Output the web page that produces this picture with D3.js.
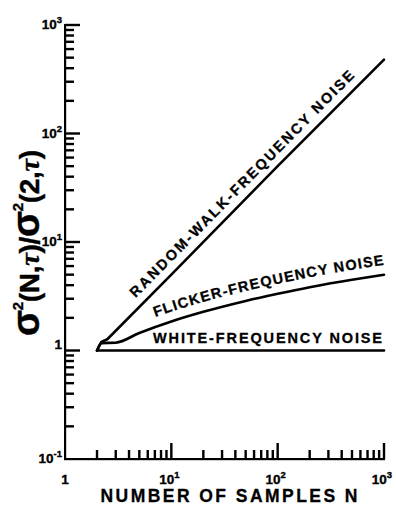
<!DOCTYPE html>
<html><head><meta charset="utf-8">
<script src="https://cdn.jsdelivr.net/npm/d3@7"></script>
<style>body{margin:0;background:#fff}svg{display:block}</style>
</head><body><svg id="c" width="396" height="508"></svg>
<script>
// ---- data ----
const flickerN = [2, 2.2, 3, 5, 10, 20, 50, 100, 200, 500, 1000];
const flickerRatio = [1, 1.17, 1.18, 1.45, 1.85, 2.27, 2.86, 3.33, 3.83, 4.49, 4.99];
const randomWalkN = [2, 2.2, 2.5, 10, 100, 1000];
const randomWalkRatio = [1, 1.2, 1.27, 5, 50, 480];
const whiteN = [2, 1000];
const whiteRatio = [1, 1];
const xDecades = [1, 10, 100, 1000];
const xDecadeBase = ["1", "10", "10", "10"];
const xDecadeExp = ["", "1", "2", "3"];
const yDecades = [0.1, 1, 10, 100, 1000];
const yDecadeBase = ["10", "1", "10", "10", "10"];
const yDecadeExp = ["-1", "", "1", "2", "3"];
const minorMultiples = [2, 3, 4, 5, 6, 7, 8, 9];
const seriesLabels = ["RANDOM-WALK-FREQUENCY NOISE", "FLICKER-FREQUENCY NOISE", "WHITE-FREQUENCY NOISE"];
const xTitle = "NUMBER OF SAMPLES N";
const yTitleParts = [["σ","big"],["2","sup"],["(N,",""],["τ","it"],[")/",""],["σ","big"],["2","sup"],["(2,",""],["τ","it"],[")",""]];

const FONT = "'Liberation Sans', Arial, Helvetica, sans-serif";
const svg = d3.select("#c");
const x = d3.scaleLog().domain([1, 1000]).range([65, 384]);
const y = d3.scaleLog().domain([0.1, 1000]).range([459, 25]);

// tick values: minor multiples in every decade, plus the decades themselves
const xMinor = [], yMinor = [];
xDecades.slice(0, -1).forEach(dec => minorMultiples.forEach(m => xMinor.push(dec * m)));
yDecades.slice(0, -1).forEach(dec => minorMultiples.forEach(m => yMinor.push(dec * m)));
const xMajor = xDecades.slice(1), yMajor = yDecades.slice(1);

// axes: lines and ticks
const x0 = x(1), y0 = y(0.1);
const ga = svg.append("g").attr("fill", "#000");
ga.append("rect").attr("x", x0 - 1).attr("y", y0 - 1).attr("width", x(1000) - x0 + 2).attr("height", 2.2);
ga.append("rect").attr("x", x0 - 1).attr("y", y(1000) - 1).attr("width", 2.2).attr("height", y0 - y(1000) + 2);
const xTicks = xMinor.map(d => [d, 9]).concat(xMajor.map(d => [d, 16]));
const yTicks = yMinor.map(d => [d, 9]).concat(yMajor.map(d => [d, 15]));
ga.append("g").selectAll("rect").data(xTicks).join("rect")
  .attr("x", d => x(d[0]) - 1.2).attr("y", d => y0 - d[1]).attr("width", 2.4).attr("height", d => d[1]);
ga.append("g").selectAll("rect").data(yTicks).join("rect")
  .attr("x", x0).attr("y", d => y(d[0]) - 1.2).attr("width", d => d[1]).attr("height", 2.4);

function supLabel(sel, base, exp, sizeMain, sizeSup) {
  sel.each(function(d, i) {
    const t = d3.select(this);
    t.append("tspan").text(base[i]).attr("font-size", sizeMain);
    if (exp[i]) t.append("tspan").text(exp[i]).attr("font-size", sizeSup).attr("dy", -6);
  });
}
svg.append("g").selectAll("text").data(xDecades).join("text")
  .attr("x", d => x(d) - (d > 1 ? 2 : 0)).attr("y", 484)
  .attr("text-anchor", "middle").attr("font-family", FONT).attr("font-weight", "bold")
  .attr("stroke", "#000").attr("stroke-width", 0.35)
  .call(supLabel, xDecadeBase, xDecadeExp, 13.5, 9.5);
svg.append("g").selectAll("text").data(yDecades).join("text")
  .attr("x", 62).attr("y", d => y(d) + (d === 1 ? -2 : 4))
  .attr("text-anchor", "end").attr("font-family", FONT).attr("font-weight", "bold")
  .attr("stroke", "#000").attr("stroke-width", 0.35)
  .call(supLabel, yDecadeBase, yDecadeExp, 13.5, 9.5);

// curves
const pts = (a, b) => a.map((v, i) => [v, b[i]]);
const lineLin = d3.line().x(d => x(d[0])).y(d => y(d[1]));
const lineSmooth = d3.line().x(d => x(d[0])).y(d => y(d[1])).curve(d3.curveMonotoneX);
const gl = svg.append("g").attr("fill", "none").attr("stroke", "#000").attr("stroke-width", 2.6)
  .attr("stroke-linejoin", "round").attr("stroke-linecap", "round");
gl.append("path").attr("d", lineLin(pts(whiteN, whiteRatio)));
gl.append("path").attr("d", lineSmooth(pts(flickerN, flickerRatio)));
gl.append("path").attr("d", lineLin(pts(randomWalkN, randomWalkRatio)));

const LBL = {"font-family": FONT, "font-weight": "bold", "font-size": 14.5, "stroke": "#000", "stroke-width": 0.3};
const applyAttrs = (s, o) => { Object.entries(o).forEach(([k, v]) => s.attr(k, v)); return s; };

// random-walk label along its straight line
const rwA = [x(10), y(5)], rwB = [x(1000), y(480)];
const ang = Math.atan2(rwB[1] - rwA[1], rwB[0] - rwA[0]);
const startN = 5.3, startV = startN * 0.5, perp = 9;
const sx = x(startN) + perp * Math.sin(ang), sy = y(startV) - perp * Math.cos(ang);
applyAttrs(svg.append("text"), LBL)
  .attr("transform", `translate(${sx},${sy}) rotate(${ang * 180 / Math.PI})`)
  .attr("textLength", 312).attr("lengthAdjust", "spacing").text(seriesLabels[0]);

// flicker label along the curve
const defs = svg.append("defs");
const fl = defs.append("path").attr("id", "flk")
  .attr("d", d3.line().x(d => x(d[0])).y(d => y(d[1]) - 10).curve(d3.curveMonotoneX)(pts(flickerN, flickerRatio)));
const fnode = fl.node();
function lenAtX(px) {
  let lo = 0, hi = fnode.getTotalLength();
  for (let k = 0; k < 40; k++) { const m = (lo + hi) / 2; if (fnode.getPointAtLength(m).x < px) lo = m; else hi = m; }
  return lo;
}
const fStart = lenAtX(155), fEnd = lenAtX(388);
const ft = applyAttrs(svg.append("text"), LBL);
ft.append("textPath").attr("href", "#flk").attr("startOffset", fStart)
  .attr("textLength", fEnd - fStart).attr("lengthAdjust", "spacing").text(seriesLabels[1]);

// white label
applyAttrs(svg.append("text"), LBL).attr("x", 153).attr("y", y(1) - 7.5)
  .attr("textLength", 229).attr("lengthAdjust", "spacing").text(seriesLabels[2]);

// axis titles
svg.append("text").attr("x", 229).attr("y", 502).attr("text-anchor", "middle")
  .attr("font-family", FONT).attr("font-weight", "bold").attr("font-size", 17.5)
  .attr("stroke", "#000").attr("stroke-width", 0.3)
  .attr("textLength", 257).attr("lengthAdjust", "spacing").text(xTitle);

const yt = svg.append("text").attr("transform", "translate(39,243) rotate(-90)")
  .attr("text-anchor", "middle").attr("font-family", FONT).attr("font-weight", "bold").attr("font-size", 28)
  .attr("stroke", "#000").attr("stroke-width", 0.4)
  .attr("textLength", 186).attr("lengthAdjust", "spacing");
let raised = false;
yTitleParts.forEach(([t, k]) => {
  const s = yt.append("tspan").text(t);
  if (k === "sup") { s.attr("font-size", 15).attr("dy", -16); raised = true; }
  else { if (raised) { s.attr("dy", 16); raised = false; } }
  if (k === "big") s.attr("font-size", 38);
  if (k === "it") s.attr("font-style", "italic").attr("font-family", "'Liberation Serif', serif");
});
</script>
</body></html>
